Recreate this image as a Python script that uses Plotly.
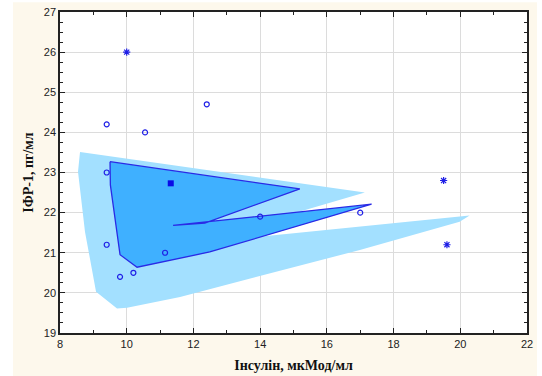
import plotly.graph_objects as go

# Observations: insulin (µIU/ml) vs IGF-1 (ng/ml)
insulin_in = [9.4, 10.55, 12.4, 9.4, 9.4, 9.8, 10.2, 11.15, 14.0, 17.0]
igf_in = [24.2, 24.0, 24.7, 23.0, 21.2, 20.4, 20.5, 21.0, 21.9, 22.0]

# Outlying observations
insulin_out = [10.0, 19.5, 19.6]
igf_out = [26.0, 22.8, 21.2]

# Centre point
insulin_center = [11.32]
igf_center = [22.73]

# Inner region (bag) outline
bag_x = [9.50, 15.19, 12.34, 11.39, 17.34, 12.49, 10.31, 9.80, 9.51, 9.50]
bag_y = [23.27, 22.59, 21.74, 21.68, 22.21, 21.02, 20.64, 20.95, 22.69, 23.27]

# Outer region (fence) outline
fence_x = [8.60, 17.14, 11.87, 20.28, 19.98, 16.99, 11.60, 10.01, 9.71, 9.08, 8.75, 8.54, 8.60]
fence_y = [23.51, 22.50, 21.22, 21.93, 21.77, 21.07, 19.90, 19.63, 19.61, 20.03, 21.52, 23.02, 23.51]

x_ticks = [8, 10, 12, 14, 16, 18, 20, 22]
y_ticks = [19, 20, 21, 22, 23, 24, 25, 26, 27]

blue = "#1f1fe6"

fig = go.Figure()

fig.add_trace(go.Scatter(
    x=fence_x, y=fence_y, mode="lines", fill="toself",
    fillcolor="#a3e0ff", line=dict(width=0, color="#a3e0ff"),
    hoverinfo="skip", showlegend=False,
))
fig.add_trace(go.Scatter(
    x=bag_x, y=bag_y, mode="lines", fill="toself",
    fillcolor="#3fb0ff", line=dict(width=1.3, color="#2a2ae6"),
    hoverinfo="skip", showlegend=False,
))
fig.add_trace(go.Scatter(
    x=insulin_in, y=igf_in, mode="markers",
    marker=dict(symbol="circle-open", size=5, color=blue, line=dict(width=1.2, color=blue)),
    showlegend=False,
))
fig.add_trace(go.Scatter(
    x=insulin_out, y=igf_out, mode="markers",
    marker=dict(symbol="asterisk-open", size=6, color=blue, line=dict(width=1.2, color=blue)),
    showlegend=False,
))
fig.add_trace(go.Scatter(
    x=insulin_center, y=igf_center, mode="markers",
    marker=dict(symbol="square", size=6, color="#0a0ae6"),
    showlegend=False,
))

axis_common = dict(
    automargin=False,
    showgrid=True, gridcolor="#dcdcdc", gridwidth=1,
    showline=True, linecolor="#222222", linewidth=1.5, mirror="ticks",
    ticks="inside", ticklen=5, tickcolor="#222222", tickwidth=1,
    zeroline=False,
    tickfont=dict(family="Liberation Sans, Arial, sans-serif", size=11, color="#222222"),
    title_font=dict(family="Liberation Serif, Times New Roman, serif", size=14, color="#111111"),
)

fig.update_xaxes(
    range=[8, 22], tickvals=x_ticks, ticktext=[str(v) for v in x_ticks],
    minor=dict(ticks="inside", ticklen=3, dtick=1, tickcolor="#222222", showgrid=False),
    title=dict(text="<b>Інсулін, мкМод/мл</b>", standoff=11),
    **axis_common,
)
fig.update_yaxes(
    range=[19, 27], tickvals=y_ticks, ticktext=[str(v) for v in y_ticks],
    minor=dict(ticks="inside", ticklen=3, dtick=0.25, tickcolor="#222222", showgrid=False),
    title=dict(text="<b>ІФР-1, пг/мл</b>", standoff=7),
    **axis_common,
)

fig.update_layout(
    width=542, height=376,
    margin=dict(l=60, r=15, t=12, b=43),
    paper_bgcolor="white", plot_bgcolor="white",
    shapes=[
        dict(type="rect", xref="paper", yref="paper", x0=-0.1006, x1=1.0214, y0=-0.14, y1=1.03,
             fillcolor="#fdf8ec", line=dict(width=0), layer="below"),
        dict(type="rect", xref="paper", yref="paper", x0=0, x1=1, y0=0, y1=1,
             fillcolor="white", line=dict(width=0), layer="below"),
    ],
)

fig.write_html("out.html")
